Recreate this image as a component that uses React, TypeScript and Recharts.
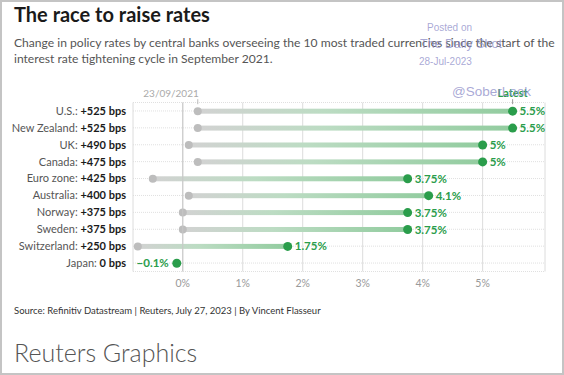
import { BarChart, Bar, XAxis, YAxis, CartesianGrid, ReferenceLine } from 'recharts';

const countries = ['U.S.', 'New Zealand', 'UK', 'Canada', 'Euro zone', 'Australia', 'Norway', 'Sweden', 'Switzerland', 'Japan'];
const changeBps = [525, 525, 490, 475, 425, 400, 375, 375, 250, 0];
const startRates = [0.25, 0.25, 0.1, 0.25, -0.5, 0.1, 0, 0, -0.75, -0.1];
const latestRates = [5.5, 5.5, 5, 5, 3.75, 4.1, 3.75, 3.75, 1.75, -0.1];
const xTicks = [0, 1, 2, 3, 4, 5];

const data = countries.map((name, i) => ({
  name,
  bps: changeBps[i],
  range: [startRates[i], latestRates[i]],
  latest: latestRates[i],
}));

const GREEN = '#2a9d4b';
const FONT = 'Lato, "Open Sans", sans-serif';

const fmtPct = (v: number) => (v < 0 ? '\u2212' + Math.abs(v) : String(v)) + '%';

const CountryTick = (props: any) => {
  const { x, y, payload } = props;
  const row = data.find((d) => d.name === payload.value);
  const bps = row ? row.bps : 0;
  return (
    <text x={x} y={y} dy="0.35em" textAnchor="end" fontSize={11} fontFamily={FONT}>
      <tspan fill="#555">{payload.value}: </tspan>
      <tspan fill="#1a1a1a" fontWeight={700}>{bps > 0 ? '+' : ''}{bps} bps</tspan>
    </text>
  );
};

const RateShape = (props: any) => {
  const { x, y, width, height, payload, index } = props;
  const cy = y + height / 2;
  const x0 = x;
  const x1 = x + width;
  const neg = payload.latest < 0;
  return (
    <g>
      {Math.abs(width) > 1 && (
        <rect x={Math.min(x0, x1)} y={cy - 2.5} width={Math.abs(width)} height={5} fill="url(#rateGrad)" />
      )}
      {Math.abs(width) > 1 && <circle cx={x0} cy={cy} r={4} fill="#bdbdbd" />}
      <circle cx={x1} cy={cy} r={4.5} fill={GREEN} />
      <text
        x={neg ? x1 - 8 : x1 + 7}
        y={cy}
        dy="0.35em"
        textAnchor={neg ? 'end' : 'start'}
        fontSize={11.5}
        fontWeight={700}
        fill={GREEN}
        fontFamily={FONT}
      >
        {fmtPct(payload.latest)}
      </text>
      {index === 0 && (
        <g>
          <text x={x0 + 1} y={cy - 14} textAnchor="end" fontSize={10} fill="#aaa" fontFamily={FONT}>
            23/09/2021
          </text>
          <line x1={x0} x2={x0} y1={cy - 12} y2={cy - 7} stroke="#bbb" />
          <text x={x1} y={cy - 14} textAnchor="middle" fontSize={11} fontWeight={700} fill={GREEN} fontFamily={FONT}>
            Latest
          </text>
          <line x1={x1} x2={x1} y1={cy - 12} y2={cy - 7} stroke="#999" />
        </g>
      )}
    </g>
  );
};

const mark: React.CSSProperties = {
  position: 'absolute',
  fontFamily: '"Liberation Sans", Arial, sans-serif',
  color: 'rgba(140,140,200,0.75)',
  whiteSpace: 'nowrap',
};

export default function App() {
  return (
    <div
      style={{
        position: 'absolute',
        left: 0,
        top: 0,
        width: 564,
        height: 375,
        boxSizing: 'border-box',
        border: '2px solid #c4c4c4',
        background: '#fff',
        fontFamily: FONT,
        overflow: 'hidden',
      }}
    >
      <div style={{ position: 'absolute', left: 12, top: 0, fontSize: 20, fontWeight: 700, color: '#1a1a1a' }}>
        The race to raise rates
      </div>
      <div style={{ position: 'absolute', left: 12, top: 33, width: 548, fontSize: 12.1, lineHeight: '15.5px', color: '#555' }}>
        Change in policy rates by central banks overseeing the 10 most traded currencies since the start of the
        interest rate tightening cycle in September 2021.
      </div>
      <div style={{ position: 'absolute', left: 0, top: -2 }}>
        <BarChart
          width={564}
          height={300}
          data={data}
          layout="vertical"
          margin={{ top: 102.5, right: 21, bottom: 8.5, left: 0 }}
        >
          <defs>
            <linearGradient id="rateGrad" x1="0" y1="0" x2="1" y2="0">
              <stop offset="0%" stopColor="#d2d2d2" />
              <stop offset="40%" stopColor="#bcdcc3" />
              <stop offset="100%" stopColor="#92cc9f" />
            </linearGradient>
          </defs>
          <CartesianGrid stroke="#e0e0e0" strokeDasharray="1 1" vertical={false} />
          <CartesianGrid stroke="#dcdcdc" horizontal={false} />
          <ReferenceLine x={0} stroke="#c8c8c8" />
          <XAxis
            type="number"
            domain={[-0.83, 6.04]}
            ticks={xTicks}
            tickFormatter={(v) => v + '%'}
            axisLine={false}
            tickLine={false}
            height={20}
            tick={{ fontSize: 10.5, fill: '#999', fontFamily: FONT }}
          />
          <YAxis
            type="category"
            dataKey="name"
            width={131}
            interval={0}
            axisLine={false}
            tickLine={false}
            tickMargin={1}
            tick={<CountryTick />}
          />
          <Bar dataKey="range" shape={<RateShape />} isAnimationActive={false} />
        </BarChart>
      </div>
      <div style={{ position: 'absolute', left: 12, top: 303, fontSize: 9.5, color: '#333' }}>
        Source: Refinitiv Datastream | Reuters, July 27, 2023 | By Vincent Flasseur
      </div>
      <div style={{ position: 'absolute', left: 12, top: 335, fontSize: 25, fontWeight: 300, color: '#555' }}>
        Reuters Graphics
      </div>
      <div style={{ ...mark, left: 425, top: 20, fontSize: 10 }}>Posted on</div>
      <div style={{ ...mark, left: 418, top: 35, fontSize: 12.5 }}>The Daily Shot</div>
      <div style={{ ...mark, left: 417, top: 54, fontSize: 10 }}>28-Jul-2023</div>
      <div style={{ ...mark, left: 450, top: 82, fontSize: 13.5 }}>@SoberLook</div>
    </div>
  );
}
